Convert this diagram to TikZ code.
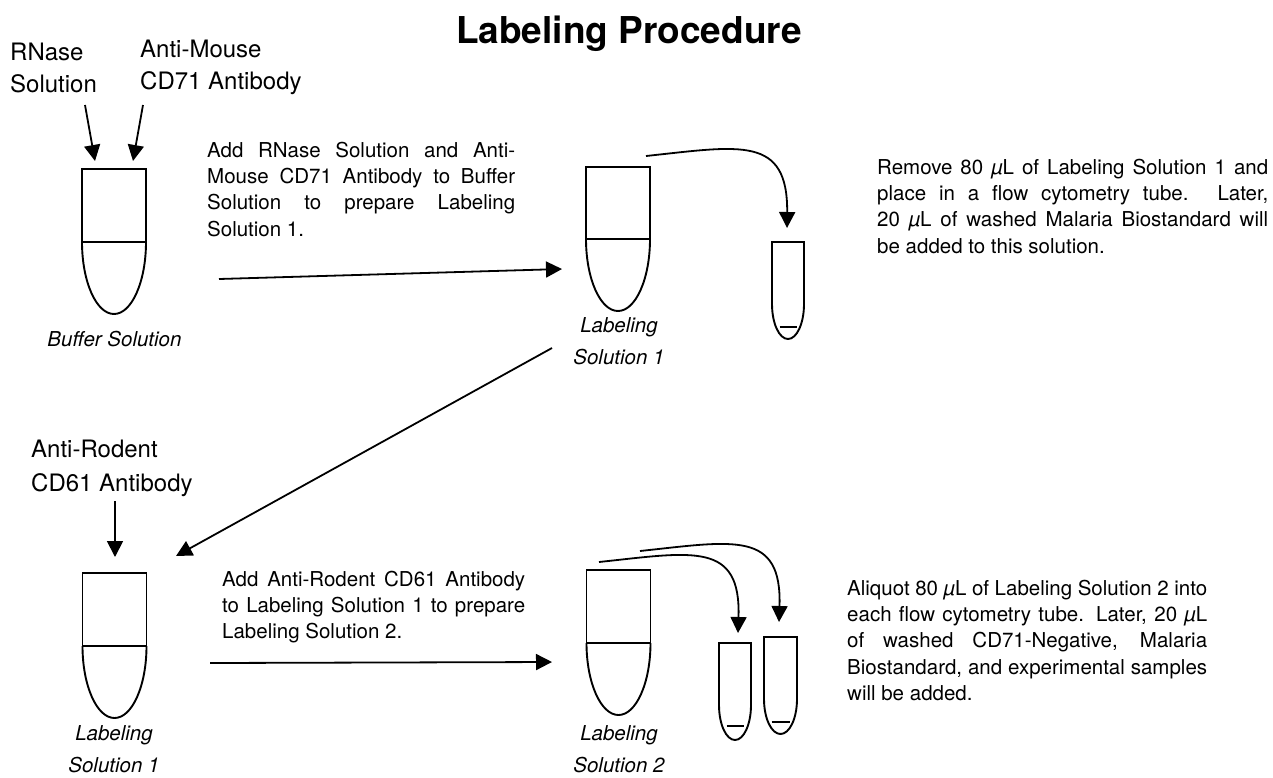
\documentclass[tikz,border=0pt]{standalone}
\usepackage{fontspec}
\setmainfont{TeX Gyre Heros}
\usetikzlibrary{arrows.meta}
\tikzset{
  ln/.style={line width=1.9pt},
  arr/.style={line width=1.8pt, -{Triangle[length=16pt,width=16pt]}},
  lab/.style={font=\fontsize{24}{32.5}\selectfont, align=left, inner sep=0, anchor=base west},
  captext/.style={font=\itshape\fontsize{20.5}{32}\selectfont, align=center, inner sep=0, anchor=base},
  para/.style={font=\fontsize{20.5}{26.4}\selectfont, align=left, inner sep=0, anchor=base west},
  tuberect/.style={draw, line width=1.9pt, inner sep=0, minimum width=64pt, minimum height=73pt},
}
\newcommand\tubebottom[4]{%
  \draw[ln] (#1,#3) .. controls (#1,{#3+0.5523*(#4-#3)}) and ({(#1+#2)/2-0.5523*(#2-#1)/2},#4) .. ({(#1+#2)/2},#4)
    .. controls ({(#1+#2)/2+0.5523*(#2-#1)/2},#4) and (#2,{#3+0.5523*(#4-#3)}) .. (#2,#3);}
\newcommand\smalltube[5]{%
  \draw[ln] (#1,{#4-35}) -- (#1,#3) -- (#2,#3) -- (#2,{#4-35})
    .. controls (#2,{#4-35+0.5523*35}) and ({(#1+#2)/2+0.5523*(#2-#1)/2},#4) .. ({(#1+#2)/2},#4)
    .. controls ({(#1+#2)/2-0.5523*(#2-#1)/2},#4) and (#1,{#4-35+0.5523*35}) .. (#1,{#4-35});
  \draw[ln] ({#1+7.5},#5) -- ({#2-7.5},#5);}
\begin{document}
\begin{tikzpicture}[x=1pt,y=-1pt]
\fill[white] (0,0) rectangle (1273,777);
\useasboundingbox (0,0) rectangle (1273,777);

% title
\node[font=\bfseries\fontsize{37}{40}\selectfont, inner sep=0, anchor=base] (title) at (629,43) {Labeling Procedure};

% reagent labels (base anchor = baseline of last line)
\node[lab] (rnase) at (10,92.5) {RNase\\Solution};
\node[lab] (antimouse) at (140,89.5) {Anti-Mouse\\CD71 Antibody};
\node[lab, font=\fontsize{24}{34}\selectfont] (antirodent) at (31,491) {Anti-Rodent\\CD61 Antibody};

% tubes
\node[tuberect] (t1) at (114,205.5) {};
\tubebottom{82}{146}{242}{314}
\node[tuberect, minimum height=72pt] (t2) at (618,203) {};
\tubebottom{586}{650}{239}{311}
\node[tuberect] (t3) at (114.5,609.5) {};
\tubebottom{82.5}{146.5}{646}{718}
\node[tuberect] (t4) at (618.5,606.5) {};
\tubebottom{586.5}{650.5}{643}{715}

\smalltube{772}{804}{242}{339}{327}
\smalltube{719}{751}{643}{740}{726}
\smalltube{764}{797}{637}{734}{722}

% captions
\node[captext] (cbuf) at (114.5,346) {Buffer Solution};
\node[captext] (cls1a) at (619,364) {Labeling\\Solution 1};
\node[captext] (cls1b) at (114,772) {Labeling\\Solution 1};
\node[captext] (cls2) at (619,772) {Labeling\\Solution 2};

% paragraphs
\node[para] (p1) at (207,236.2) {\makebox[308pt][s]{Add RNase Solution and Anti-}\\
  \makebox[308pt][s]{Mouse CD71 Antibody to Buffer}\\
  \makebox[308pt][s]{Solution to prepare Labeling}\\
  Solution 1.};
\node[para] (p2) at (877,253.2) {\makebox[391pt][s]{Remove 80 \textit{µ}L of Labeling Solution 1 and}\\
  \makebox[391pt][s]{place in a flow cytometry tube. Later,}\\
  \makebox[391pt][s]{20 \textit{µ}L of washed Malaria Biostandard will}\\
  be added to this solution.};
\node[para] (p3) at (222,638.8) {\makebox[303pt][s]{Add Anti-Rodent CD61 Antibody}\\
  \makebox[303pt][s]{to Labeling Solution 1 to prepare}\\
  Labeling Solution 2.};
\node[para] (p4) at (847,700.6) {\makebox[360pt][s]{Aliquot 80 \textit{µ}L of Labeling Solution 2 into}\\
  \makebox[360pt][s]{each flow cytometry tube. Later, 20 \textit{µ}L}\\
  \makebox[360pt][s]{of washed CD71-Negative, Malaria}\\
  \makebox[360pt][s]{Biostandard, and experimental samples}\\
  will be added.};

% arrow end points
\coordinate (rnS) at (85,105);   \coordinate (rnE) at (95,161);
\coordinate (amS) at (143,105);  \coordinate (amE) at (133,161);
\coordinate (h1S) at (219,279);  \coordinate (h1E) at (562,269);
\coordinate (cvS) at (646,156);  \coordinate (cvE) at (787,228);
\coordinate (dgS) at (552,348);  \coordinate (dgE) at (176,556);
\coordinate (arS) at (115,501);  \coordinate (arE) at (115,557);
\coordinate (h2S) at (210,663);  \coordinate (h2E) at (552,662);
\coordinate (b1S) at (599,562);  \coordinate (b1E) at (738,633);
\coordinate (b2S) at (640,551);  \coordinate (b2E) at (779,622);

\draw[arr] (rnS) -- (rnE);
\draw[arr] (amS) -- (amE);
\draw[arr] (h1S) -- (h1E);
\draw[arr] (cvS) .. controls (740,146) and (788,135) .. (cvE);
\draw[arr] (dgS) -- (dgE);
\draw[arr] (arS) -- (arE);
\draw[arr] (h2S) -- (h2E);
\draw[arr] (b1S) .. controls (693,552) and (741,541) .. (b1E);
\draw[arr] (b2S) .. controls (734,541) and (782,530) .. (b2E);
\end{tikzpicture}
\end{document}
